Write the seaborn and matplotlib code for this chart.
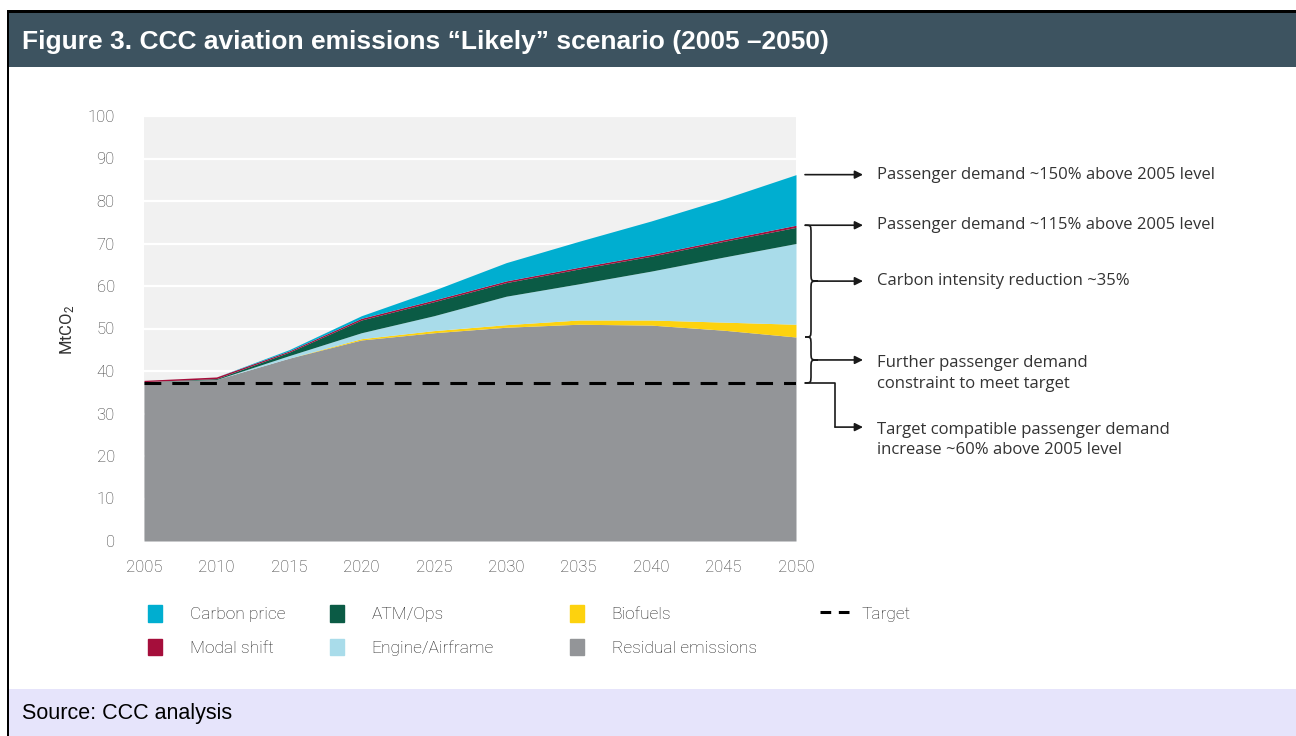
import numpy as np
import pandas as pd
import matplotlib.pyplot as plt
import matplotlib.patches as mpatches
import matplotlib.transforms as mtransforms
from matplotlib.path import Path
from matplotlib.lines import Line2D
from matplotlib.legend_handler import HandlerPatch
import seaborn as sns

# --- data (MtCO2) ---
years = [2005, 2010, 2015, 2020, 2025, 2030, 2035, 2040, 2045, 2050]
residual = [37.5, 38.0, 43.0, 47.3, 49.0, 50.3, 51.0, 50.8, 49.6, 48.0]
biofuels = [0.0, 0.0, 0.0, 0.3, 0.5, 0.6, 1.0, 1.2, 1.9, 3.0]
engine_airframe = [0.0, 0.0, 0.6, 1.4, 3.5, 6.7, 8.5, 11.5, 15.3, 19.0]
atm_ops = [0.0, 0.2, 0.8, 3.0, 3.3, 3.2, 3.5, 3.5, 3.7, 3.8]
modal_shift = [0.3, 0.4, 0.3, 0.4, 0.4, 0.4, 0.4, 0.4, 0.4, 0.5]
carbon_price = [0.0, 0.0, 0.3, 0.6, 2.3, 4.3, 6.1, 7.9, 9.6, 11.9]
target = [37.2, 37.2, 37.2, 37.2, 37.2, 37.2, 37.2, 37.2, 37.2, 37.2]

layer_names = ["Residual emissions", "Biofuels", "Engine/Airframe", "ATM/Ops",
               "Modal shift", "Carbon price"]
layer_colors = ["#939598", "#fdd20e", "#a9dcea", "#0b5b45", "#a50e3b", "#00aed0"]

annotations = [
    "Passenger demand ~150% above 2005 level",
    "Passenger demand ~115% above 2005 level",
    "Carbon intensity reduction ~35%",
    "Further passenger demand\nconstraint to meet target",
    "Target compatible passenger demand\nincrease ~60% above 2005 level",
]

# --- style ---
sns.set_theme(style="darkgrid", rc={
    "axes.facecolor": "#f1f1f1",
    "grid.color": "white",
    "grid.linewidth": 1.6,
})
plt.rcParams["font.family"] = ["Roboto", "DejaVu Sans"]
plt.rcParams["mathtext.default"] = "regular"

W, H = 1296, 736
fig = plt.figure(figsize=(W / 100, H / 100), dpi=100)
fig.patch.set_facecolor("white")

ax_left, ax_right, ax_top, ax_bottom = 144, 796, 116, 541
ax = fig.add_axes([ax_left / W, 1 - ax_bottom / H,
                   (ax_right - ax_left) / W, (ax_bottom - ax_top) / H])

def ax_x(px):
    return (px - ax_left) / (ax_right - ax_left)

# stacked areas
ax.stackplot(years, residual, biofuels, engine_airframe, atm_ops, modal_shift,
             carbon_price, colors=layer_colors, linewidth=0, zorder=2)

# target line
df_target = pd.DataFrame({"year": years, "target": target})
sns.lineplot(data=df_target, x="year", y="target", ax=ax, color="black",
             linewidth=2.2, zorder=3)
ax.lines[-1].set_linestyle((0, (5.5, 3.6)))

ax.set_xlim(2005, 2050)
ax.set_ylim(0, 100)
ax.set_xticks(years)
ax.set_yticks(range(0, 101, 10))
ax.grid(axis="x", visible=False)
for s in ax.spines.values():
    s.set_visible(False)
ax.tick_params(axis="y", pad=21, labelsize=12, labelcolor="#383838", length=0)
ax.tick_params(axis="x", pad=14, labelsize=12, labelcolor="#383838", length=0)
for lab in ax.get_xticklabels() + ax.get_yticklabels():
    lab.set_fontweight("light")
ax.set_xlabel("")
ax.set_ylabel("")
fig.text(68 / W, 1 - 330 / H, "MtCO$_2$", rotation=90, ha="center", va="center",
         fontsize=12, color="#333333")

# --- right-hand annotations ---
trans = mtransforms.blended_transform_factory(ax.transAxes, ax.transData)
x_end, x_spine, x_tip = ax_x(805), ax_x(811), ax_x(818)
x_elbow, x_arrow, x_text = ax_x(835), ax_x(863), ax_x(877)

cum = np.cumsum([residual, biofuels, engine_airframe, atm_ops, modal_shift,
                 carbon_price], axis=0)
y_total = cum[-1][-1]
y_tech = cum[-2][-1]
y_resid = residual[-1]
y_target = target[-1]
y_low = 26.8


def arrow(x0, x1, y):
    ax.annotate("", xy=(x1, y), xytext=(x0, y), xycoords=trans, textcoords=trans,
                arrowprops=dict(arrowstyle="-|>", color="#1a1a1a", lw=1.2,
                                mutation_scale=12, shrinkA=0, shrinkB=0),
                annotation_clip=False)


def brace(y_top, y_bot):
    ym = (y_top + y_bot) / 2
    r = min(2.0, (y_top - y_bot) / 5)
    verts = [(x_end, y_top),
             (x_spine, y_top), (x_spine, y_top), (x_spine, y_top - r),
             (x_spine, ym + r),
             (x_spine, ym), (x_spine, ym), (x_tip, ym),
             (x_spine, ym), (x_spine, ym), (x_spine, ym - r),
             (x_spine, y_bot + r),
             (x_spine, y_bot), (x_spine, y_bot), (x_end, y_bot)]
    codes = [Path.MOVETO,
             Path.CURVE4, Path.CURVE4, Path.CURVE4,
             Path.LINETO,
             Path.CURVE4, Path.CURVE4, Path.CURVE4,
             Path.CURVE4, Path.CURVE4, Path.CURVE4,
             Path.LINETO,
             Path.CURVE4, Path.CURVE4, Path.CURVE4]
    patch = mpatches.PathPatch(Path(verts, codes), fill=False, lw=1.2,
                               edgecolor="#1a1a1a", transform=trans, clip_on=False)
    ax.add_patch(patch)
    return ym


arrow(x_end, x_arrow, y_total)
arrow(x_end, x_arrow, y_tech)
mid1 = brace(y_tech, y_resid)
arrow(x_tip, x_arrow, mid1)
mid2 = brace(y_resid, y_target)
arrow(x_tip, x_arrow, mid2)
ax.plot([x_end, x_elbow, x_elbow], [y_target, y_target, y_low], color="#1a1a1a",
        lw=1.2, transform=trans, clip_on=False)
arrow(x_elbow, x_arrow, y_low)

text_kw = dict(transform=trans, fontsize=12, color="#333333",
               family=["Open Sans", "DejaVu Sans"], clip_on=False)
ax.text(x_text, y_total, annotations[0], va="center", **text_kw)
ax.text(x_text, y_tech, annotations[1], va="center", **text_kw)
ax.text(x_text, mid1, annotations[2], va="center", **text_kw)
ax.text(x_text, mid2 + 1.2, annotations[3], va="top", linespacing=1.4, **text_kw)
ax.text(x_text, y_low + 1.3, annotations[4], va="top", linespacing=1.4, **text_kw)

# --- legend, one block per column ---
def left_square(legend, orig_handle, xdescent, ydescent, width, height, fontsize):
    return mpatches.Rectangle((-xdescent, -ydescent), 10, height)


handles = {name: mpatches.Patch(color=c) for name, c in zip(layer_names, layer_colors)}
handles["Target"] = Line2D([], [], color="black", lw=2.2, linestyle=(0, (3.5, 2.5)))
columns = [(["Carbon price", "Modal shift"], 148),
           (["ATM/Ops", "Engine/Airframe"], 330),
           (["Biofuels", "Residual emissions"], 570),
           (["Target"], 820)]
for names, xpx in columns:
    fig.legend([handles[n] for n in names], names, loc="upper left",
               bbox_to_anchor=(xpx / W, 1 - 605 / H), frameon=False,
               handlelength=1.68, handleheight=1.1,
               handletextpad=0.72, labelspacing=0.95, borderpad=0,
               borderaxespad=0,
               handler_map={mpatches.Patch: HandlerPatch(patch_func=left_square)},
               prop={"family": ["Roboto", "DejaVu Sans"], "weight": "light", "size": 12.5})
for leg in fig.legends:
    for t in leg.get_texts():
        t.set_color("#222222")

# --- frame: header band, footer band, left rule ---
def px_rect(x0, y0, x1, y1, color):
    fig.add_artist(mpatches.Rectangle((x0 / W, 1 - y1 / H), (x1 - x0) / W,
                                      (y1 - y0) / H, transform=fig.transFigure,
                                      facecolor=color, edgecolor="none", zorder=0))

px_rect(8, 12, W, 67, "#3d5360")
px_rect(7, 10, W, 13, "black")
px_rect(7, 10, 9, H, "black")
px_rect(9, 689, W, H, "#e6e4fb")

fig.text(22 / W, 1 - 42 / H,
         "Figure 3. CCC aviation emissions \u201cLikely\u201d scenario (2005 \u20132050)",
         color="white", fontsize=19, fontweight="bold", va="center",
         family=["Liberation Sans", "DejaVu Sans"])
fig.text(22 / W, 1 - 713 / H, "Source: CCC analysis", color="black", fontsize=15.5,
         va="center", family=["Liberation Sans", "DejaVu Sans"])

fig.savefig("out.png", dpi=100)
